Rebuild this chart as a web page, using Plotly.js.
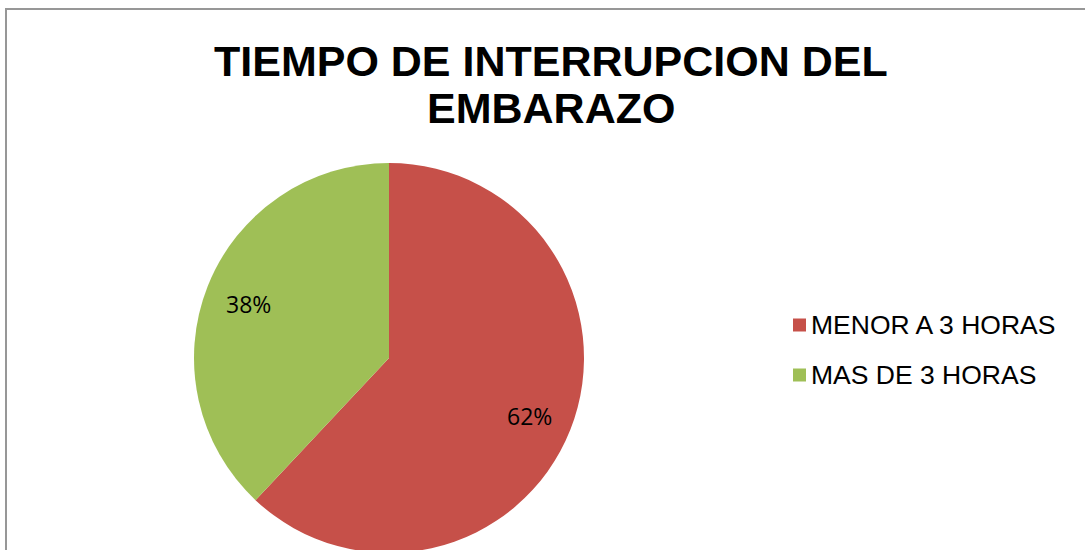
<!DOCTYPE html>
<html>
<head>
<meta charset="utf-8">
<script src="https://cdn.plot.ly/plotly-3.0.1.min.js"></script>
<style>
html,body{margin:0;padding:0;overflow:hidden;background:#fff;}
#chart{width:1085px;height:600px;}
</style>
</head>
<body>
<div id="chart"></div>
<script>
const categories = ["MENOR A 3 HORAS", "MAS DE 3 HORAS"];
const values = [62, 38];
const colors = ["#C65049", "#9FBF56"];
const titleLines = ["TIEMPO DE INTERRUPCION DEL", "EMBARAZO"];

const W = 1085, H = 600;
const cx = 389, cy = 358, r = 195;

const trace = {
  type: "pie",
  labels: categories,
  values: values,
  sort: false,
  direction: "clockwise",
  rotation: 0,
  marker: {colors: colors, line: {width: 0}},
  textinfo: "none",
  hoverinfo: "label+percent",
  showlegend: false,
  domain: {x: [(cx - r) / W, (cx + r) / W], y: [1 - (cy + r) / H, 1 - (cy - r) / H]}
};

const shapes = [{
  type: "rect", xref: "paper", yref: "paper",
  x0: 6 / W, x1: 1.05, y0: -0.05, y1: 1 - 9 / H,
  line: {color: "#979797", width: 2}, fillcolor: "rgba(0,0,0,0)"
}];
const annotations = [];

// title lines
const titleY = [61, 108];
titleLines.forEach((t, i) => {
  annotations.push({
    xref: "paper", yref: "paper", x: 551 / W, y: 1 - titleY[i] / H,
    xanchor: "center", yanchor: "middle", showarrow: false, text: "<b>" + t + "</b>",
    font: {family: "Liberation Sans, Arial", size: 43, color: "#000"}
  });
});

// percentage labels placed at the middle angle of each slice
const total = values.reduce((a, b) => a + b, 0);
let cum = 0;
values.forEach((v) => {
  const mid = (cum + v / 2) / total;
  cum += v;
  const th = 2 * Math.PI * mid;
  const px = cx + 0.775 * r * Math.sin(th);
  const py = cy - 0.775 * r * Math.cos(th) + 2;
  annotations.push({
    xref: "paper", yref: "paper", x: px / W, y: 1 - py / H,
    xanchor: "center", yanchor: "middle", showarrow: false,
    text: Math.round(100 * v / total) + "%",
    font: {family: "Open Sans", size: 23, color: "#000"}
  });
});

// legend built from the category arrays
const legendX = 793, legendY0 = 325, legendGap = 50, sq = 13;
categories.forEach((c, i) => {
  const yc = legendY0 + i * legendGap;
  shapes.push({
    type: "rect", xref: "paper", yref: "paper",
    x0: legendX / W, x1: (legendX + sq) / W,
    y0: 1 - (yc + sq / 2) / H, y1: 1 - (yc - sq / 2) / H,
    line: {width: 0}, fillcolor: colors[i]
  });
  annotations.push({
    xref: "paper", yref: "paper", x: (legendX + sq + 3) / W, y: 1 - yc / H,
    xanchor: "left", yanchor: "middle", showarrow: false, text: c,
    font: {family: "Liberation Sans, Arial", size: 26.5, color: "#000"}
  });
});

const layout = {
  width: W, height: H,
  margin: {l: 0, r: 0, t: 0, b: 0},
  paper_bgcolor: "#fff",
  showlegend: false,
  shapes: shapes,
  annotations: annotations
};

Plotly.newPlot("chart", [trace], layout, {displayModeBar: false, staticPlot: true});
</script>
</body>
</html>
